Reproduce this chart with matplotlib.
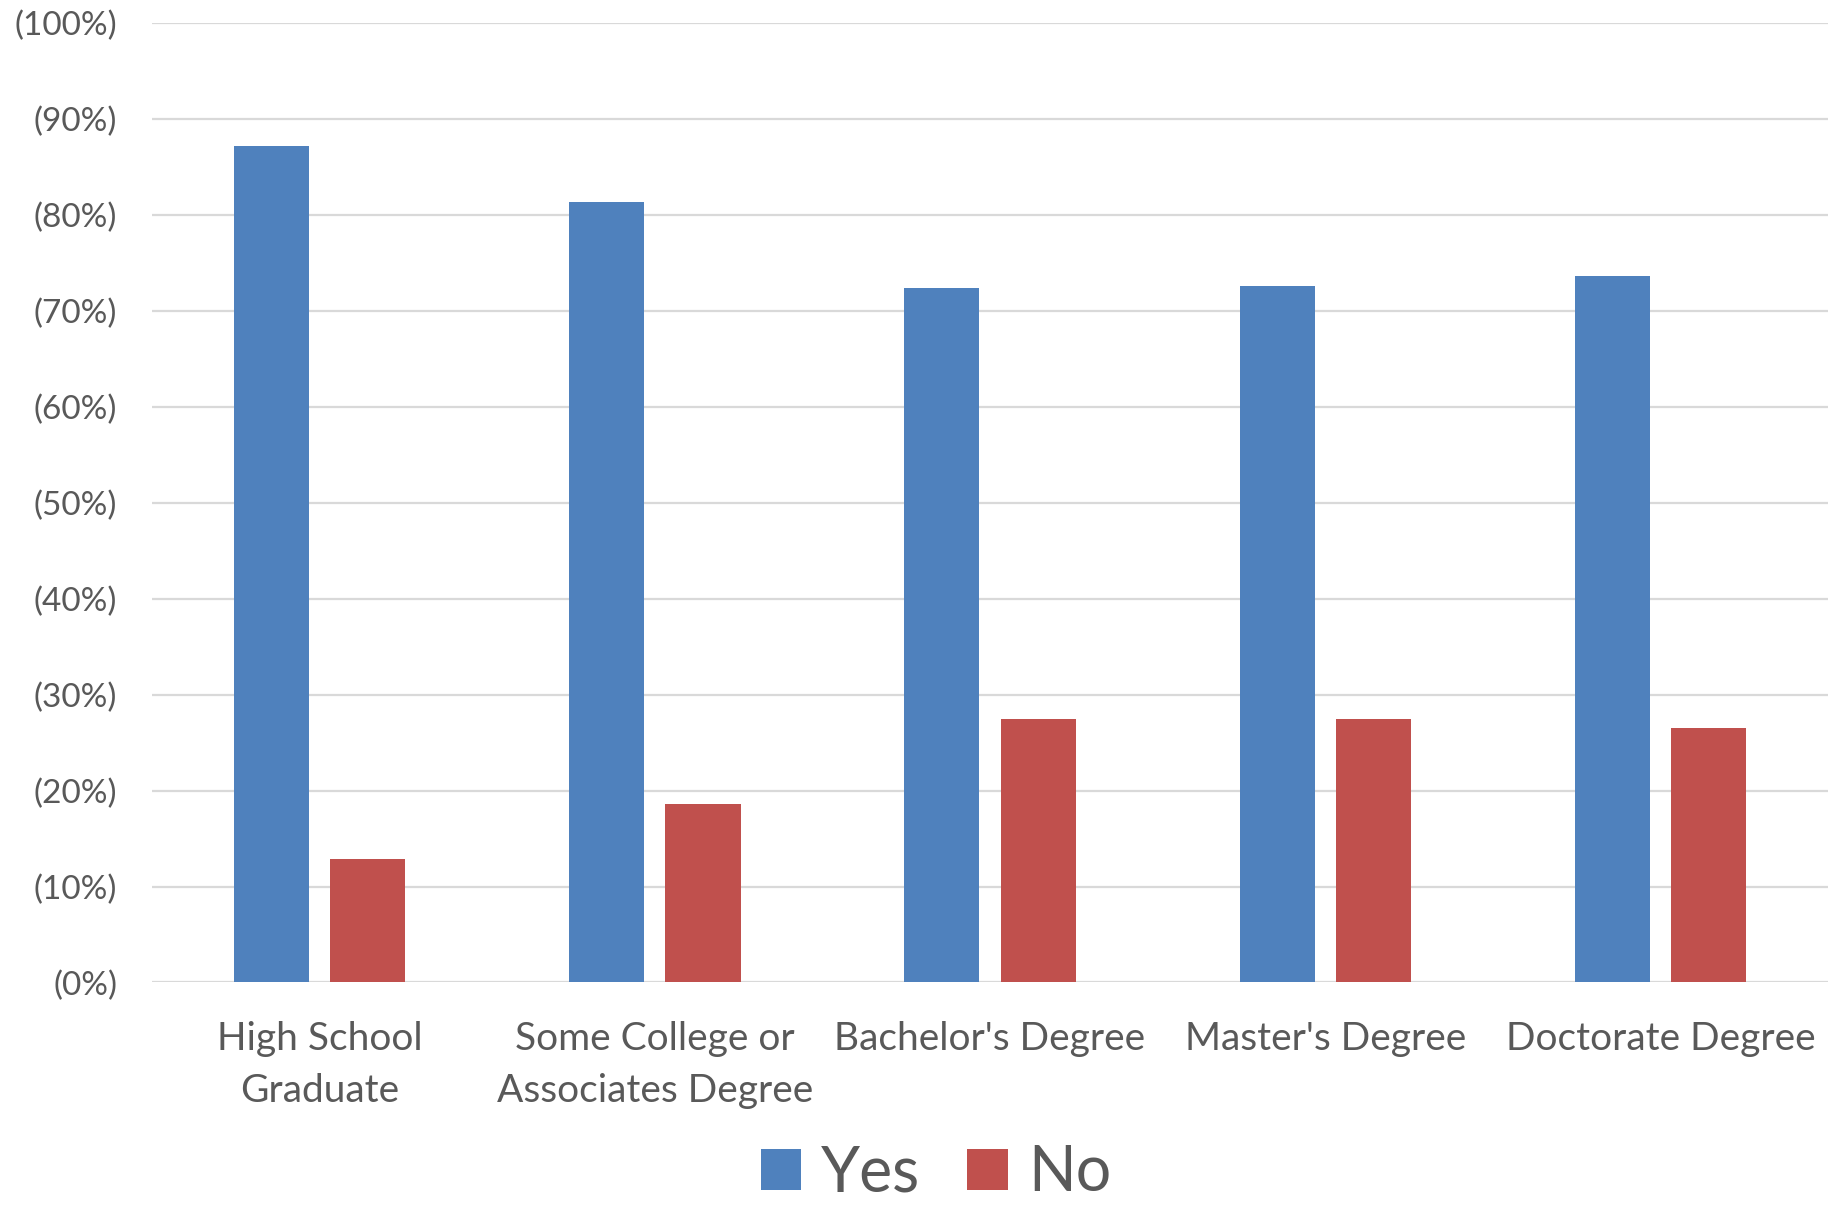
import numpy as np
import matplotlib.pyplot as plt
from matplotlib.ticker import FixedLocator

# ----------------------------------------
# DATA
# ----------------------------------------
categories = [
    "High School\nGraduate",
    "Some College or\nAssociates Degree",
    "Bachelor's Degree",
    "Master's Degree",
    "Doctorate Degree",
]
yes_share = [0.872, 0.813, 0.724, 0.726, 0.736]
no_share = [0.129, 0.186, 0.275, 0.274, 0.265]

y_ticks = [0.0, 0.1, 0.2, 0.3, 0.4, 0.5, 0.6, 0.7, 0.8, 0.9, 1.0]
y_tick_labels = ["(0%)", "(10%)", "(20%)", "(30%)", "(40%)", "(50%)",
                 "(60%)", "(70%)", "(80%)", "(90%)", "(100%)"]

# ----------------------------------------
# STYLE
# ----------------------------------------
plt.rcParams["font.family"] = ["Lato", "DejaVu Sans"]
TEXT = "#595959"
BLUE = "#4F81BD"
RED = "#C0504D"
GRID = "#D9D9D9"

fig = plt.figure(figsize=(18.28, 12.11), dpi=100)
ax = fig.add_axes([0.0832, 0.1887, 0.9168, 0.7926])

x = np.arange(len(categories))
width = 0.224
offset = 0.1435

ax.bar(x - offset, yes_share, width, color=BLUE, label="Yes")
ax.bar(x + offset, no_share, width, color=RED, label="No")

ax.set_xlim(-0.5, len(categories) - 0.5)
ax.set_ylim(0, 1)
ax.yaxis.set_major_locator(FixedLocator(y_ticks))
ax.set_yticklabels(y_tick_labels)
ax.set_xticks(x)
ax.set_xticklabels(categories, linespacing=1.55)

ax.set_axisbelow(True)
ax.yaxis.grid(True, color=GRID, linewidth=1.6)
ax.xaxis.grid(False)
for s in ax.spines.values():
    s.set_visible(False)

ax.tick_params(axis="y", length=0, pad=25, labelsize=24, labelcolor=TEXT)
ax.tick_params(axis="x", length=0, pad=28, labelsize=28, labelcolor=TEXT)

# ----------------------------------------
# LEGEND
# ----------------------------------------
leg = fig.legend(
    loc="center", bbox_to_anchor=(0.512, 0.031), ncol=2, frameon=False,
    fontsize=45, handlelength=0.65, handleheight=0.65,
    handletextpad=0.32, columnspacing=0.75, borderpad=0, borderaxespad=0,
)
for t in leg.get_texts():
    t.set_color(TEXT)

fig.savefig("out.png", dpi=100)
